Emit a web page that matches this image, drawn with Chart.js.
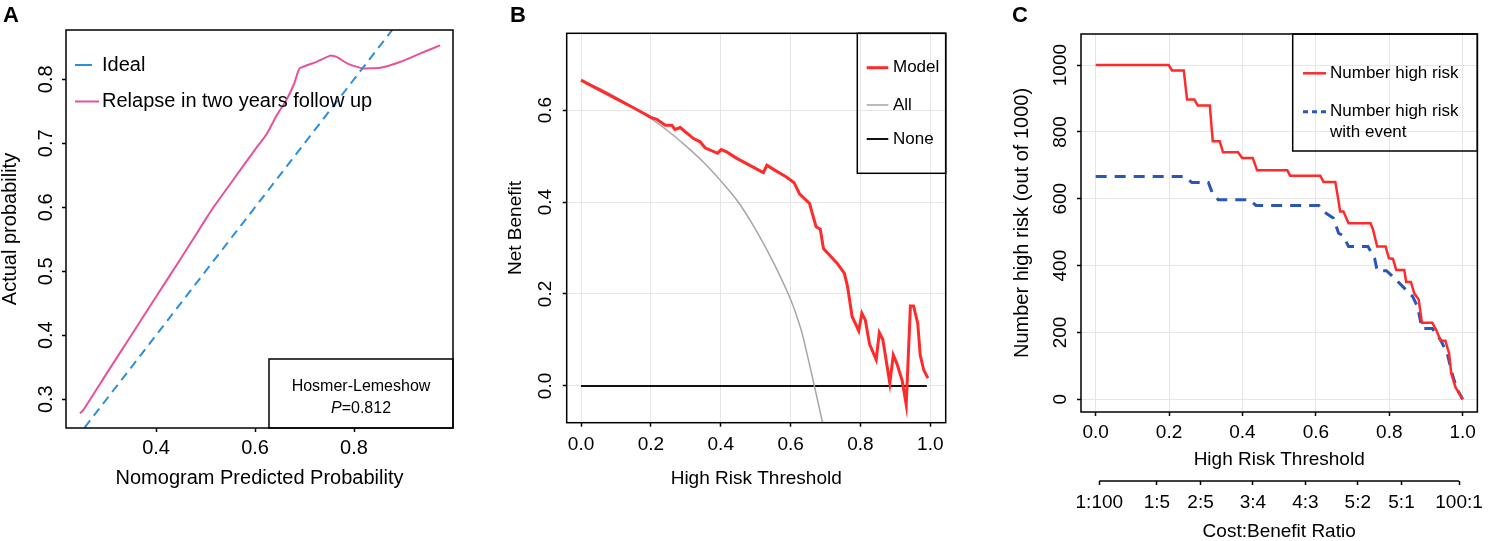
<!DOCTYPE html>
<html>
<head>
<meta charset="utf-8">
<title>Calibration, decision curve and clinical impact</title>
<script src="https://cdn.jsdelivr.net/npm/chart.js@4.4.1/dist/chart.umd.min.js"></script>
<style>
  html, body { margin: 0; padding: 0; background: #fff; }
  body { width: 1490px; height: 541px; position: relative; overflow: hidden; }
  canvas { position: absolute; top: 0; }
  .tag { position: absolute; top: 4px; z-index: 2; font: bold 22px/22px "Liberation Sans", Arial, sans-serif; color: #000; }
</style>
</head>
<body>
<canvas id="chartA" width="470" height="541" style="left:0"></canvas>
<canvas id="chartB" width="490" height="541" style="left:480px"></canvas>
<canvas id="chartC" width="500" height="541" style="left:990px"></canvas>
<div class="tag" style="left:3px">A</div>
<div class="tag" style="left:510px">B</div>
<div class="tag" style="left:1012px">C</div>
<script>
// ---- A: calibration curve ----
const idealX = [0.2, 1.0];
const idealY = [0.2, 1.0];
const calibX = [0.246, 0.253, 0.30, 0.35, 0.40, 0.45, 0.50, 0.516, 0.556, 0.60, 0.624, 0.644, 0.663, 0.679,
  0.69, 0.72, 0.752, 0.765, 0.788, 0.818, 0.853, 0.893, 0.933, 0.974];
const calibY = [0.278, 0.283, 0.340, 0.400, 0.460, 0.520, 0.581, 0.600, 0.643, 0.690, 0.715, 0.744, 0.767, 0.793,
  0.817, 0.826, 0.837, 0.835, 0.824, 0.817, 0.818, 0.827, 0.840, 0.853];
const aXTicks = [0.4, 0.6, 0.8];
const aYTicks = [0.3, 0.4, 0.5, 0.6, 0.7, 0.8];

// ---- B: decision curve ----
const modelT = [0, 0.05, 0.10, 0.15, 0.20, 0.217, 0.241, 0.260, 0.269, 0.284, 0.322, 0.341, 0.355, 0.391, 0.401,
  0.417, 0.446, 0.522, 0.532, 0.551, 0.589, 0.610, 0.626, 0.654, 0.673, 0.685, 0.694, 0.733, 0.754, 0.763,
  0.776, 0.795, 0.804, 0.814, 0.826, 0.845, 0.854, 0.864, 0.884, 0.894, 0.904, 0.919, 0.931, 0.943, 0.952,
  0.964, 0.971, 0.981, 0.993];
const modelNB = [0.665, 0.645, 0.625, 0.605, 0.584, 0.580, 0.567, 0.567, 0.558, 0.562, 0.538, 0.531, 0.518, 0.506, 0.514,
  0.509, 0.495, 0.464, 0.480, 0.471, 0.454, 0.442, 0.417, 0.397, 0.346, 0.341, 0.299, 0.267, 0.245, 0.216,
  0.151, 0.120, 0.158, 0.143, 0.091, 0.057, 0.116, 0.101, 0.006, 0.067, 0.049, 0.013, -0.041, 0.174, 0.174,
  0.136, 0.067, 0.035, 0.017];
const allT = [0, 0.05, 0.10, 0.15, 0.20, 0.25, 0.30, 0.35, 0.40, 0.45, 0.50, 0.55, 0.60, 0.63, 0.65, 0.668, 0.69, 0.70];
const allNB = [0.665, 0.648, 0.628, 0.606, 0.582, 0.554, 0.522, 0.487, 0.446, 0.400, 0.340, 0.270, 0.188, 0.122, 0.060, 0.0, -0.075, -0.11];
const noneT = [0, 0.99];
const noneNB = [0, 0];
const bXTicks = [0, 0.2, 0.4, 0.6, 0.8, 1.0];
const bYTicks = [0, 0.2, 0.4, 0.6];

// ---- C: clinical impact curve ----
const highT = [0, 0.199, 0.208, 0.24, 0.249, 0.269, 0.278, 0.311, 0.319, 0.338, 0.347, 0.388, 0.399, 0.428, 0.44,
  0.522, 0.53, 0.612, 0.621, 0.653, 0.662, 0.666, 0.675, 0.689, 0.749, 0.756, 0.767, 0.79, 0.799, 0.81,
  0.819, 0.841, 0.846, 0.859, 0.868, 0.88, 0.889, 0.917, 0.928, 0.94, 0.953, 0.963, 0.969, 0.98, 1.0];
const highN = [1000, 1000, 984, 984, 897, 897, 879, 879, 772, 772, 739, 739, 722, 722, 685,
  685, 669, 669, 650, 650, 592, 562, 562, 527, 527, 507, 457, 457, 422, 420,
  387, 387, 351, 351, 317, 299, 229, 229, 207, 175, 175, 137, 77, 37, 0];
const eventT = [0, 0.24, 0.262, 0.307, 0.318, 0.334, 0.419, 0.437, 0.608, 0.621, 0.648, 0.662, 0.675, 0.689, 0.742,
  0.76, 0.767, 0.792, 0.81, 0.837, 0.864, 0.877, 0.889, 0.917, 0.94, 0.958, 0.971, 0.984, 1.0];
const eventN = [667, 667, 649, 649, 617, 597, 597, 580, 580, 562, 542, 497, 489, 457, 457,
  422, 385, 385, 367, 337, 307, 277, 212, 212, 177, 137, 77, 32, 0];
const cXTicks = [0, 0.2, 0.4, 0.6, 0.8, 1.0];
const cYTicks = [0, 200, 400, 600, 800, 1000];
const costTicks = [0.0099, 0.1667, 0.2857, 0.4286, 0.5714, 0.7143, 0.8333, 0.9901];
const costLabels = ['1:100', '1:5', '2:5', '3:4', '4:3', '5:2', '5:1', '100:1'];

const FONT = '"Liberation Sans", Arial, Helvetica, sans-serif';
Chart.defaults.font.family = FONT;
Chart.defaults.color = '#000';

const pts = (xs, ys) => xs.map((x, i) => ({ x: x, y: ys[i] }));
const fixTicks = vals => scale => { scale.ticks = vals.map(v => ({ value: v })); };
const one = v => Number(v).toFixed(1);

// full box around the plot region, like R's bty="o"
const framePlugin = {
  id: 'frame',
  afterDraw(chart) {
    const { ctx, chartArea: a } = chart;
    ctx.save();
    ctx.strokeStyle = '#000';
    ctx.lineWidth = 1.5;
    ctx.strokeRect(a.left, a.top, a.right - a.left, a.bottom - a.top);
    ctx.restore();
  }
};

// legend drawn inside the plot
const boxLegend = {
  id: 'boxLegend',
  afterDraw(chart, args, o) {
    if (!o.items) return;
    const ctx = chart.ctx;
    const a = chart.chartArea;
    ctx.save();
    if (o.left !== undefined) {
      ctx.strokeStyle = '#000';
      ctx.lineWidth = 1.5;
      ctx.strokeRect(o.left, a.top, a.right - o.left, o.bottom - a.top);
    }
    ctx.font = o.font;
    ctx.textBaseline = 'middle';
    ctx.textAlign = 'left';
    o.items.forEach(it => {
      const ds = chart.data.datasets[it.dataset];
      ctx.strokeStyle = ds.borderColor;
      ctx.lineWidth = ds.borderWidth;
      ctx.setLineDash(it.dash || []);
      ctx.beginPath();
      ctx.moveTo(o.sample[0], it.y);
      ctx.lineTo(it.end || o.sample[1], it.y);
      ctx.stroke();
      ctx.setLineDash([]);
      ctx.fillStyle = '#000';
      ds.label.split('\n').forEach((line, k) => ctx.fillText(line, o.textX, it.y + k * 21));
    });
    ctx.restore();
  }
};

// Hosmer-Lemeshow note box (panel A)
const hlNote = {
  id: 'hlNote',
  afterDraw(chart, args, o) {
    if (!o.left) return;
    const ctx = chart.ctx;
    const a = chart.chartArea;
    ctx.save();
    ctx.strokeStyle = '#000';
    ctx.lineWidth = 1.5;
    ctx.strokeRect(o.left, o.top, a.right - o.left, a.bottom - o.top);
    ctx.fillStyle = '#000';
    ctx.textBaseline = 'middle';
    ctx.textAlign = 'center';
    ctx.font = '16px ' + FONT;
    ctx.fillText('Hosmer-Lemeshow', o.cx, o.top + 28);
    ctx.textAlign = 'left';
    ctx.font = 'italic 16px ' + FONT;
    const wP = ctx.measureText('P').width;
    ctx.font = '16px ' + FONT;
    const wRest = ctx.measureText('=0.812').width;
    const x0 = o.cx - (wP + wRest) / 2;
    ctx.font = 'italic 16px ' + FONT;
    ctx.fillText('P', x0, o.top + 50);
    ctx.font = '16px ' + FONT;
    ctx.fillText('=0.812', x0 + wP, o.top + 50);
    ctx.restore();
  }
};

// cost:benefit axis line spans only first..last tick
const costAxisLine = {
  id: 'costAxisLine',
  afterDraw(chart) {
    const s = chart.scales.x2;
    if (!s) return;
    const ctx = chart.ctx;
    ctx.save();
    ctx.strokeStyle = '#000';
    ctx.lineWidth = 1.5;
    ctx.beginPath();
    ctx.moveTo(s.getPixelForValue(costTicks[0]), s.top);
    ctx.lineTo(s.getPixelForValue(costTicks[costTicks.length - 1]), s.top);
    ctx.stroke();
    ctx.restore();
  }
};

const tickGrid = (onArea) => ({
  drawOnChartArea: onArea,
  color: '#e6e6e6',
  lineWidth: 1,
  tickLength: 4,
  tickColor: '#000',
  tickWidth: 1.5
});

const baseOptions = (padding) => ({
  responsive: false,
  animation: false,
  layout: { padding: padding },
  plugins: { legend: { display: false }, tooltip: { enabled: false } },
  elements: { point: { radius: 0 } }
});

// ---------- A ----------
const optsA = baseOptions({ top: 30, right: 17, left: 0, bottom: 0 });
optsA.plugins.boxLegend = {
  font: '20px ' + FONT, sample: [75, 99], textX: 102,
  items: [{ dataset: 0, y: 65, end: 92 }, { dataset: 1, y: 101.5 }]
};
optsA.plugins.hlNote = { left: 269, top: 359, cx: 361 };
optsA.scales = {
  x: {
    type: 'linear', min: 0.218, max: 1.0,
    afterBuildTicks: fixTicks(aXTicks),
    afterFit: s => { s.height = 113; },
    grid: tickGrid(false), border: { display: false },
    ticks: { font: { size: 20 }, padding: 4, maxRotation: 0, callback: one },
    title: { display: true, text: 'Nomogram Predicted Probability', font: { size: 20 }, padding: { top: 0, bottom: 51 } }
  },
  y: {
    type: 'linear', min: 0.255, max: 0.877,
    afterBuildTicks: fixTicks(aYTicks),
    afterFit: s => { s.width = 66; },
    grid: tickGrid(false), border: { display: false },
    ticks: { font: { size: 20 }, padding: 2, minRotation: 90, maxRotation: 90, crossAlign: 'center', callback: one },
    title: { display: true, text: 'Actual probability', font: { size: 20, lineHeight: 1 }, padding: 0 }
  }
};
new Chart(document.getElementById('chartA'), {
  type: 'scatter',
  data: {
    datasets: [
      { label: 'Ideal', data: pts(idealX, idealY), showLine: true, borderColor: '#2b8fdc', borderWidth: 2, borderDash: [9, 6] },
      { label: 'Relapse in two years follow up', data: pts(calibX, calibY), showLine: true, borderColor: '#e8509a', borderWidth: 2, tension: 0.15 }
    ]
  },
  options: optsA,
  plugins: [framePlugin, boxLegend, hlNote]
});

// ---------- B ----------
const optsB = baseOptions({ top: 33.3, right: 24.3, left: 0, bottom: 0 });
optsB.plugins.boxLegend = {
  font: '17px ' + FONT, sample: [386.7, 408.3], textX: 413, left: 377.3, bottom: 173.3,
  items: [{ dataset: 0, y: 67.7 }, { dataset: 1, y: 105 }, { dataset: 2, y: 139 }]
};
optsB.scales = {
  x: {
    type: 'linear', min: -0.041, max: 1.044,
    afterBuildTicks: fixTicks(bXTicks),
    afterFit: s => { s.height = 118.3; },
    grid: tickGrid(true), border: { display: false },
    ticks: { font: { size: 19 }, padding: 6.9, maxRotation: 0, callback: one },
    title: { display: true, text: 'High Risk Threshold', font: { size: 19 }, padding: { top: 0, bottom: 51.3 } }
  },
  y: {
    type: 'linear', min: -0.08, max: 0.767,
    afterBuildTicks: fixTicks(bYTicks),
    afterFit: s => { s.width = 86.7; },
    grid: tickGrid(true), border: { display: false },
    ticks: { font: { size: 19 }, padding: 3.5, minRotation: 90, maxRotation: 90, crossAlign: 'center', callback: one },
    title: { display: true, text: 'Net Benefit', font: { size: 19 }, padding: { top: 24.2, bottom: 0 } }
  }
};
new Chart(document.getElementById('chartB'), {
  type: 'scatter',
  data: {
    datasets: [
      { label: 'Model', data: pts(modelT, modelNB), showLine: true, borderColor: '#ff2a2a', borderWidth: 3 },
      { label: 'All', data: pts(allT, allNB), showLine: true, borderColor: '#a6a6a6', borderWidth: 1.5, tension: 0.3 },
      { label: 'None', data: pts(noneT, noneNB), showLine: true, borderColor: '#111', borderWidth: 2 }
    ]
  },
  options: optsB,
  plugins: [framePlugin, boxLegend]
});

// ---------- C ----------
const optsC = baseOptions({ top: 34, right: 7.7, left: 0, bottom: 0 });
optsC.plugins.boxLegend = {
  font: '17px ' + FONT, sample: [313, 336], textX: 340, left: 302.7, bottom: 151,
  items: [{ dataset: 0, y: 73.3 }, { dataset: 1, y: 111.7, dash: [5, 4] }]
};
optsC.scales = {
  x: {
    type: 'linear', min: -0.040, max: 1.040, weight: 0,
    afterBuildTicks: fixTicks(cXTicks),
    afterFit: s => { s.height = 69; },
    grid: tickGrid(true), border: { display: false },
    ticks: { font: { size: 19 }, padding: 5.6, maxRotation: 0, callback: one },
    title: { display: true, text: 'High Risk Threshold', font: { size: 19 }, padding: { top: 0, bottom: 9.6 } }
  },
  x2: {
    type: 'linear', position: 'bottom', min: -0.040, max: 1.040, weight: 1,
    afterBuildTicks: fixTicks(costTicks),
    afterFit: s => { s.height = 60; },
    grid: tickGrid(false), border: { display: false },
    ticks: { font: { size: 19 }, padding: 6.6, maxRotation: 0, autoSkip: false, callback: (v, i) => costLabels[i] },
    title: { display: true, text: 'Cost:Benefit Ratio', font: { size: 19, lineHeight: 1 }, padding: 0 }
  },
  y: {
    type: 'linear', min: -38, max: 1093,
    afterBuildTicks: fixTicks(cYTicks),
    afterFit: s => { s.width = 91; },
    grid: tickGrid(true), border: { display: false },
    ticks: { font: { size: 19 }, padding: -5, minRotation: 90, maxRotation: 90, crossAlign: 'center', callback: v => String(v) },
    title: { display: true, text: 'Number high risk (out of 1000)', font: { size: 20 }, padding: { top: 20.5, bottom: 0 } }
  }
};
new Chart(document.getElementById('chartC'), {
  type: 'scatter',
  data: {
    datasets: [
      { label: 'Number high risk', data: pts(highT, highN), showLine: true, borderColor: '#ff2a2a', borderWidth: 2.5 },
      { label: 'Number high risk\nwith event', data: pts(eventT, eventN), showLine: true, borderColor: '#2a56b8', borderWidth: 3, borderDash: [11, 8] }
    ]
  },
  options: optsC,
  plugins: [framePlugin, boxLegend, costAxisLine]
});
</script>
</body>
</html>
